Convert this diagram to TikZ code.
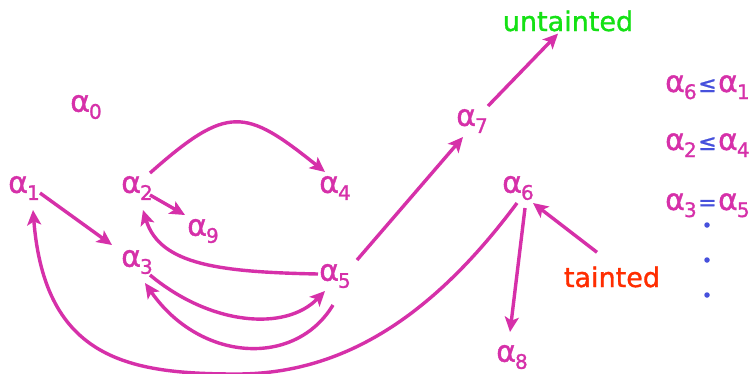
\documentclass[tikz,border=0pt]{standalone}
\usepackage{fontspec}
\setmainfont{DejaVu Sans}[BoldFont={DejaVu Sans}, BoldFeatures={FakeBold=1.2}]
\usetikzlibrary{arrows.meta}
\definecolor{mag}{RGB}{214,48,169}
\definecolor{ugreen}{RGB}{20,225,20}
\definecolor{tred}{RGB}{255,45,0}
\definecolor{eqblue}{RGB}{70,80,220}
\newcommand{\myal}[1]{{\fontsize{30}{30}\selectfont α}\kern-1pt\raisebox{-7pt}{\fontsize{20}{20}\selectfont #1}}
\newcommand{\myrel}[1]{\kern1.5pt\textcolor{eqblue}{\fontsize{22}{22}\selectfont #1}\kern1.5pt}
\begin{document}
\begin{tikzpicture}[x=1pt,y=-1pt,
  lbl/.style={text=mag, inner sep=0pt, font=\bfseries},
  word/.style={inner sep=0pt, anchor=base, font=\fontsize{27}{27}\selectfont\bfseries},
  eqn/.style={inner sep=0pt, anchor=base west, text=mag, font=\bfseries},
  edge/.style={draw=mag, line width=3.4pt, -{Stealth[length=15pt,width=14pt,inset=3.5pt]}},
  dotmark/.style={fill=eqblue, draw=none, circle, minimum size=5.5pt, inner sep=0pt}]
\useasboundingbox[fill=white] (0,0) rectangle (754,373);
% nodes
\node[lbl] (a0) at (86,107) {\myal{0}};
\node[lbl] (a1) at (24,188) {\myal{1}};
\node[lbl] (a2) at (137,188) {\myal{2}};
\node[lbl] (a4) at (335,188) {\myal{4}};
\node[lbl] (a9) at (203,231) {\myal{9}};
\node[lbl] (a3) at (137,262) {\myal{3}};
\node[lbl] (a5) at (335,276) {\myal{5}};
\node[lbl] (a7) at (472,121) {\myal{7}};
\node[lbl] (a6) at (518,188) {\myal{6}};
\node[lbl] (a8) at (512,357) {\myal{8}};
\node[word, text=ugreen] (un) at (568,31) {untainted};
\node[word, text=tred] (ta) at (612,287) {tainted};
% equations
\node[eqn] (e1) at (665,92) {\myal{6}\myrel{≤}\myal{1}};
\node[eqn] (e2) at (665,150) {\myal{2}\myrel{≤}\myal{4}};
\node[eqn] (e3) at (665,210) {\myal{3}\myrel{=}\myal{5}};
\node[dotmark] (d1) at (707,225) {};
\node[dotmark] (d2) at (707,260) {};
\node[dotmark] (d3) at (707,295) {};
% connectors
\draw[edge] ([shift={(16,5)}]a1.center) -- ([shift={(-25,-17)}]a3.center);
\draw[edge] ([shift={(13,7)}]a2.center) -- ([shift={(-18,-16)}]a9.center);
\draw[edge] ([shift={(13,-15)}]a2.center) .. controls (228,104) and (245,108) .. ([shift={(-10,-16)}]a4.center);
\draw[edge] ([shift={(-17,-2)}]a5.center) .. controls (220,272) and (160,265) .. ([shift={(6,22)}]a2.center);
\draw[edge] ([shift={(13,13)}]a3.center) .. controls (210,325) and (285,332) .. ([shift={(-10,15)}]a5.center);
\draw[edge] ([shift={(-2,29)}]a5.center) .. controls (295,368) and (200,362) .. ([shift={(8,21)}]a3.center);
\draw[edge] ([shift={(-1,15)}]a6.center) .. controls (430,320) and (340,374) .. (237,374)
  .. controls (130,374) and (45,360) .. ([shift={(9,22)}]a1.center);
\draw[edge] ([shift={(22,-16)}]a5.center) -- ([shift={(-9,16)}]a7.center);
\draw[edge] ([shift={(16,-15)}]a7.center) -- ([shift={(-10,2)}]un.south);
\draw[edge] ([shift={(7,20)}]a6.center) -- ([shift={(-2,-25)}]a8.center);
\draw[edge] ([shift={(-15,-14)}]ta.north) -- ([shift={(15,15)}]a6.center);
\end{tikzpicture}
\end{document}
